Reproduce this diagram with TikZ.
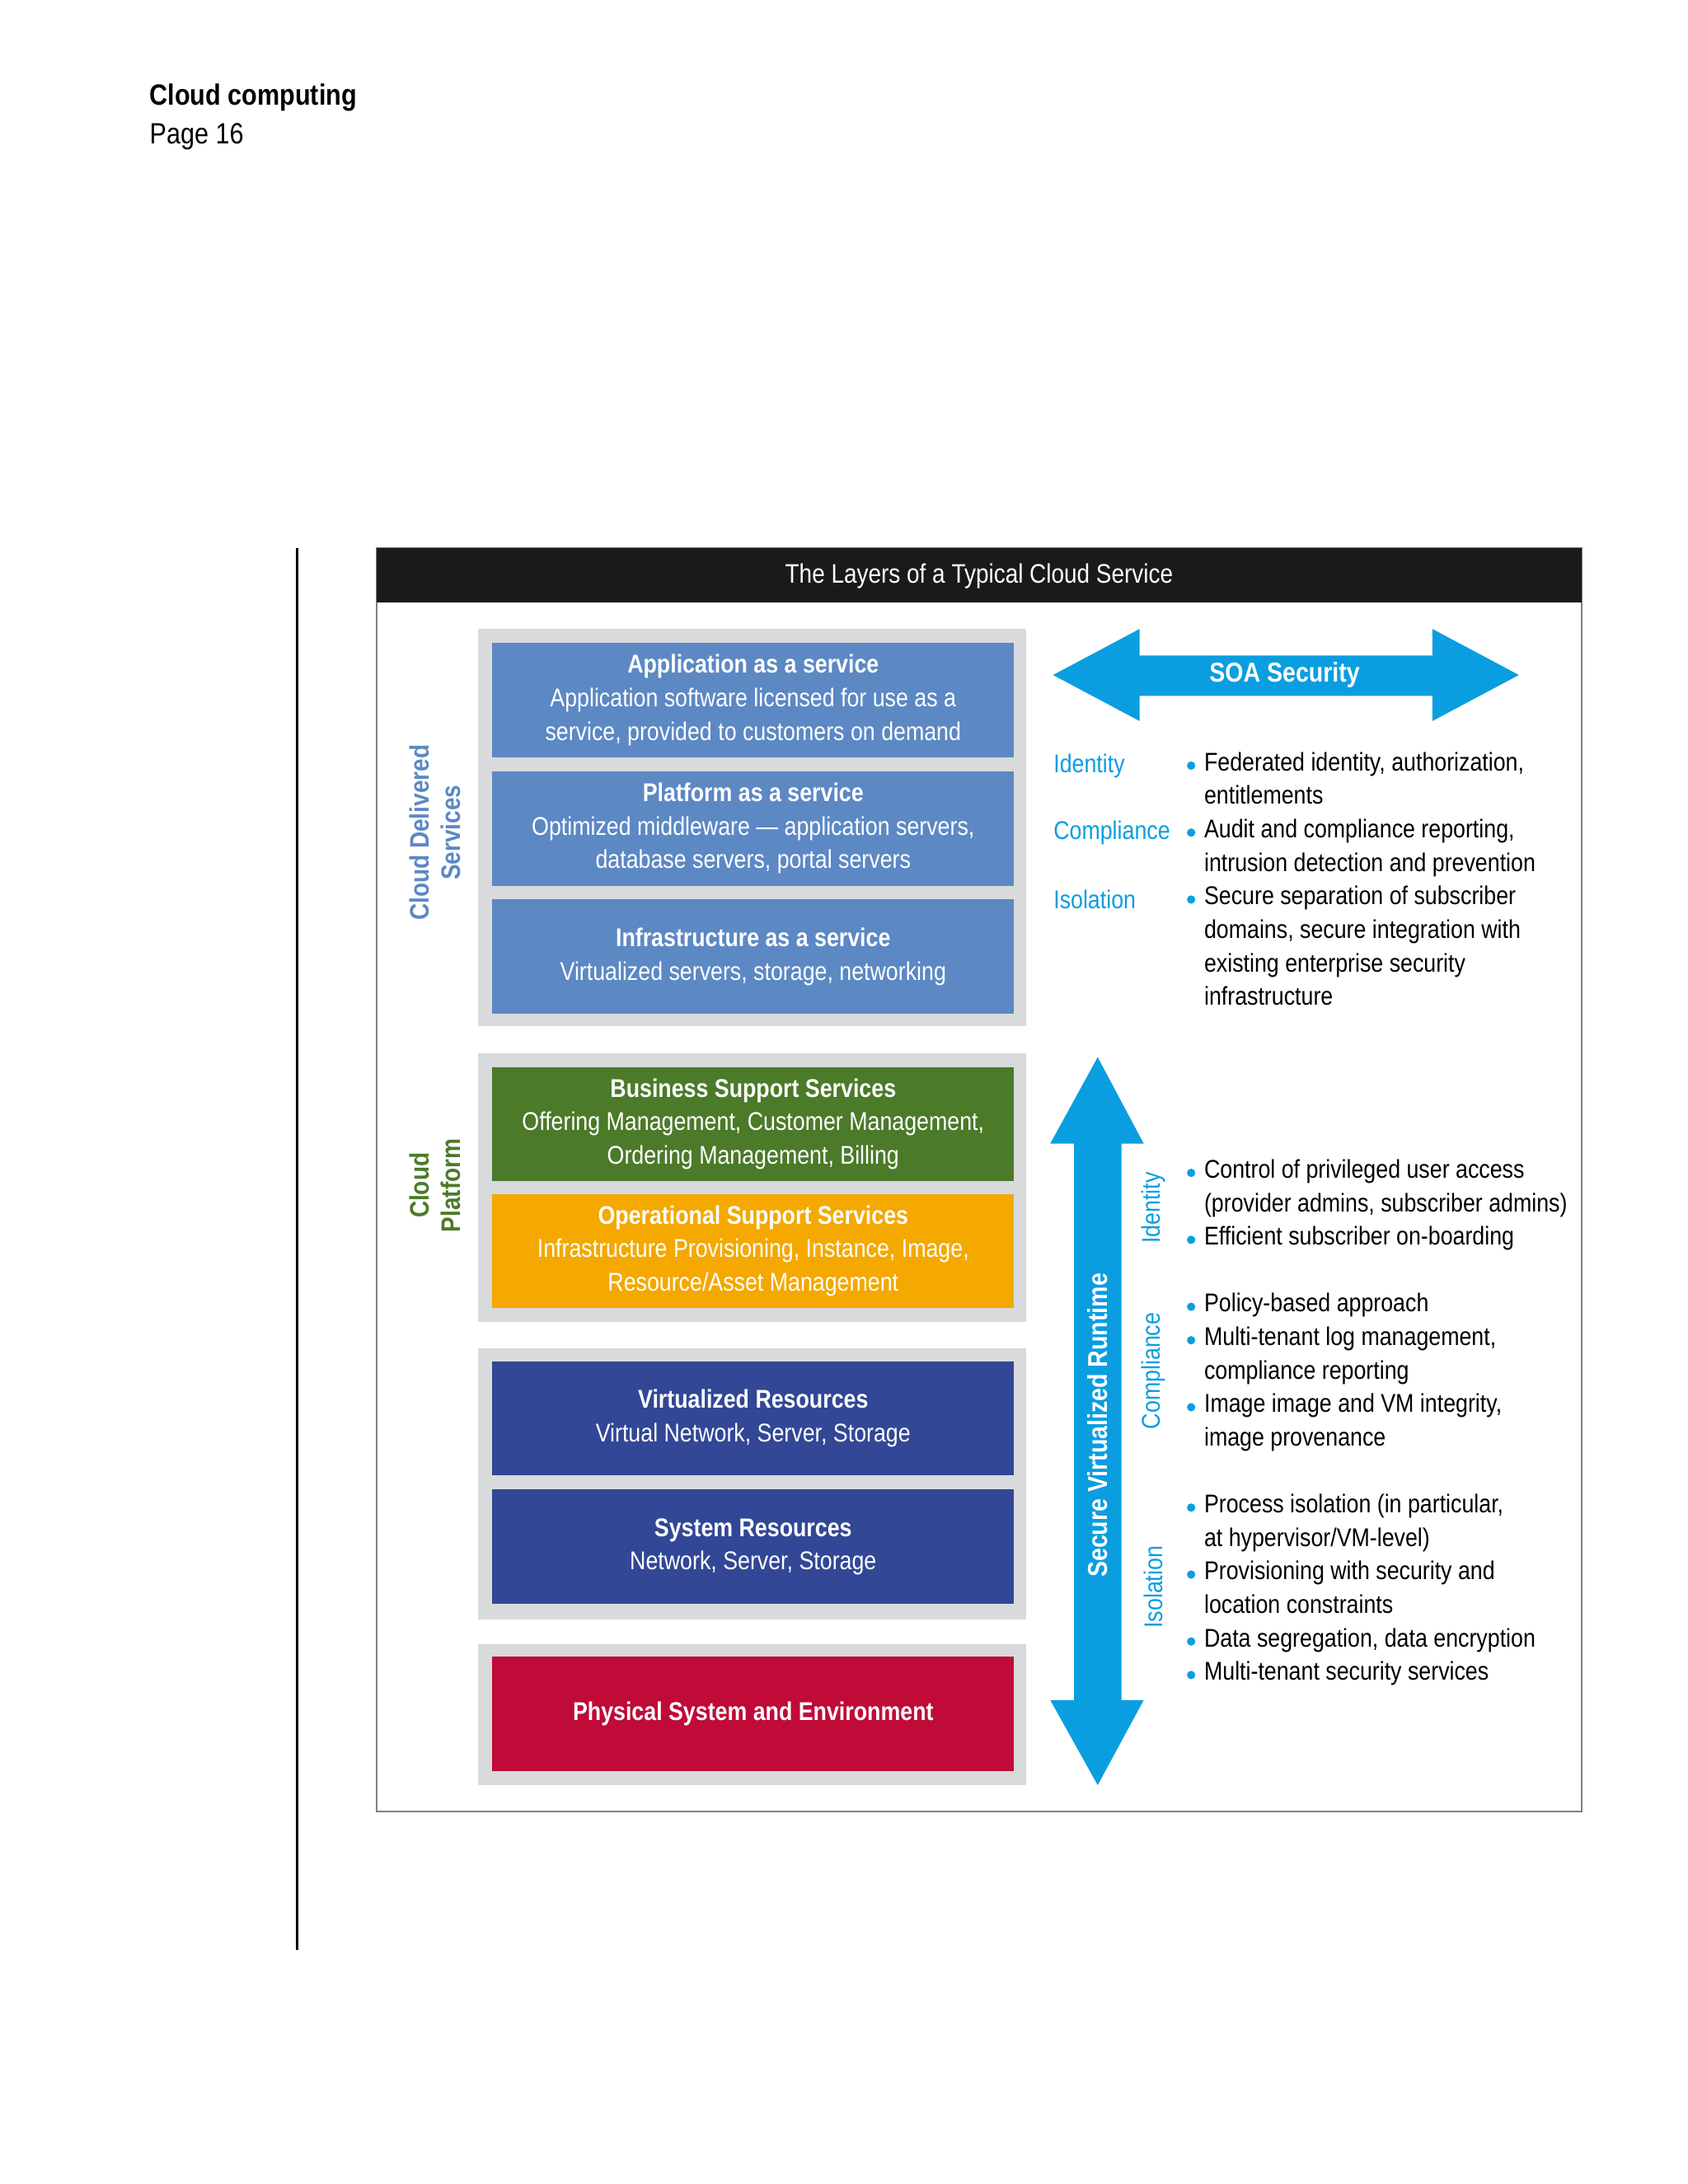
\documentclass[tikz,border=0pt]{standalone}
\usepackage{fontspec}
\setmainfont{Liberation Sans}[FakeStretch=0.86]
\usetikzlibrary{positioning}
\definecolor{hdr}{HTML}{1A1A1A}
\definecolor{grp}{HTML}{D9DADC}
\definecolor{sblue}{HTML}{5C88C4}
\definecolor{sgreen}{HTML}{4B7A29}
\definecolor{sorange}{HTML}{F4A800}
\definecolor{snavy}{HTML}{324795}
\definecolor{sred}{HTML}{C00A37}
\definecolor{cyan1}{HTML}{0A9EE0}
\begin{document}
\begin{tikzpicture}[x=0.5pt,y=-0.5pt,
 box/.style={minimum width=187pt,minimum height=41pt,inner sep=0pt,align=center,text=white,font=\fontsize{9.2}{12}\selectfont},
 grpbox/.style={fill=grp,draw=none},
 lab/.style={text=cyan1,font=\fontsize{9.2}{12}\selectfont,anchor=west,inner sep=0pt},
 btxt/.style={anchor=north west,align=left,inner sep=0pt,font=\fontsize{9.2}{12}\selectfont},
 dot/.style={circle,fill=cyan1,inner sep=0pt,minimum size=3pt},
 rlab/.style={rotate=90,font=\fontsize{9.2}{12}\selectfont,inner sep=0pt}]
\useasboundingbox (0,0) rectangle (1210,1566);
\fill[white] (0,0) rectangle (1210,1566);
\node[anchor=west,font=\bfseries\fontsize{10.5}{13}\selectfont,inner sep=0pt] (t1) at (107,70) {Cloud computing};
\node[anchor=west,font=\fontsize{10.5}{13}\selectfont,inner sep=0pt] (t2) at (107,98) {Page 16};
\draw[line width=1pt] (213,393) -- (213,1398);
\draw[gray,line width=0.5pt] (270,393) rectangle (1134,1299);
\fill[hdr] (270,393) rectangle (1134,432);
\node[text=white,font=\fontsize{9.6}{12}\selectfont] (hd) at (702,413) {The Layers of a Typical Cloud Service};
% groups
\fill[grpbox] (343,451) rectangle (736,736);
\fill[grpbox] (343,755) rectangle (736,948);
\fill[grpbox] (343,967) rectangle (736,1161);
\fill[grpbox] (343,1179) rectangle (736,1280);
\node[box,fill=sblue] (app) at (540,502) {\textbf{Application as a service}\\Application software licensed for use as a\\service, provided to customers on demand};
\node[box,fill=sblue] (plat) at (540,594) {\textbf{Platform as a service}\\Optimized middleware --- application servers,\\database servers, portal servers};
\node[box,fill=sblue] (inf) at (540,686) {\textbf{Infrastructure as a service}\\Virtualized servers, storage, networking};
\node[box,fill=sgreen] (bss) at (540,806) {\textbf{Business Support Services}\\Offering Management, Customer Management,\\Ordering Management, Billing};
\node[box,fill=sorange] (oss) at (540,897) {\textbf{Operational Support Services}\\Infrastructure Provisioning, Instance, Image,\\Resource/Asset Management};
\node[box,fill=snavy] (vr) at (540,1017) {\textbf{Virtualized Resources}\\Virtual Network, Server, Storage};
\node[box,fill=snavy] (sr) at (540,1109) {\textbf{System Resources}\\Network, Server, Storage};
\node[box,fill=sred] (ph) at (540,1229) {\textbf{Physical System and Environment}};
\node[rlab,text=sblue,font=\bfseries\fontsize{9.6}{11}\selectfont,align=center] (cds) at (312,597) {Cloud Delivered\\Services};
\node[rlab,text=sgreen,font=\bfseries\fontsize{9.6}{11}\selectfont,align=center] (cp) at (312,850) {Cloud\\Platform};
% SOA arrow
\fill[cyan1] (755,484) -- (817,451) -- (817,470) -- (1027,470) -- (1027,451) -- (1089,484) -- (1027,517) -- (1027,499) -- (817,499) -- (817,517) -- cycle;
\node[text=white,font=\bfseries\fontsize{9.8}{12}\selectfont] (soa) at (921,484) {SOA Security};
\node[lab] (l1) at (755,549) {Identity};
\node[lab] (l2) at (755,597) {Compliance};
\node[lab] (l3) at (755,645) {Isolation};
\foreach \y/\t in {550/{Federated identity, authorization,\\entitlements},598/{Audit and compliance reporting,\\intrusion detection and prevention},646/{Secure separation of subscriber\\domains, secure integration with\\existing enterprise security\\infrastructure},842/{Control of privileged user access\\(provider admins, subscriber admins)},890/{Efficient subscriber on-boarding},938/{Policy-based approach},962/{Multi-tenant log management,\\compliance reporting},1010/{Image image and VM integrity,\\image provenance},1082/{Process isolation (in particular,\\at hypervisor/VM-level)},1130/{Provisioning with security and\\location constraints},1178/{Data segregation, data encryption},1202/{Multi-tenant security services}}{
 \node[dot] at (854,\y-1) {};
 \node[btxt] at (863,\y-11) {\t};
}
% vertical arrow
\fill[cyan1] (787,758) -- (820,820) -- (804,820) -- (804,1219) -- (820,1219) -- (787,1280) -- (753,1219) -- (770,1219) -- (770,820) -- (753,820) -- cycle;
\node[rlab,text=white,font=\bfseries\fontsize{9.8}{12}\selectfont] (svr) at (787,1022) {Secure Virtualized Runtime};
\node[rlab,text=cyan1] (r1) at (827,866) {Identity};
\node[rlab,text=cyan1] (r2) at (827,983) {Compliance};
\node[rlab,text=cyan1] (r3) at (827,1138) {Isolation};
\end{tikzpicture}
\end{document}
